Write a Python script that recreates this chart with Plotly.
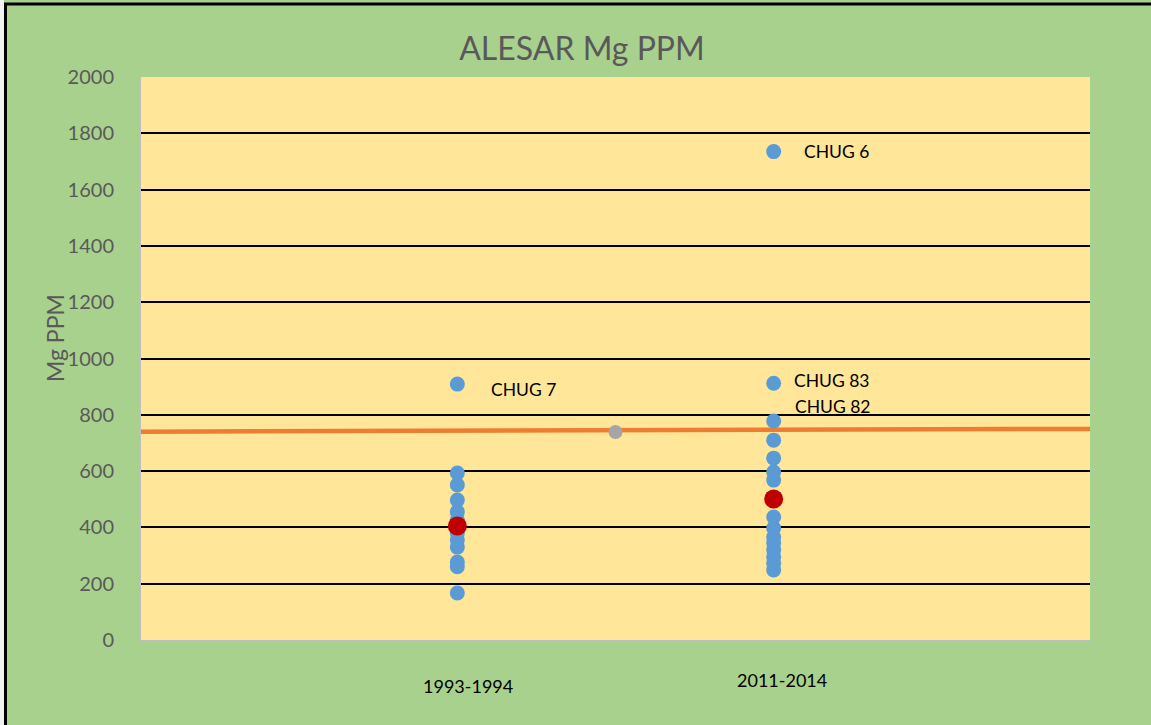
import plotly.graph_objects as go

categories = ["1993-1994", "2011-2014"]
cat_pos = [1, 2]
vals_1993 = [909, 593, 551, 497, 455, 426, 380, 355, 330, 277, 260, 167]
vals_2011 = [1735, 912, 778, 710, 646, 597, 568, 437, 398, 366, 345, 320, 295, 273, 249]
means = [405, 501]
overall_x = [1.5]
overall_y = [739]
ref_line_x = [0, 3]
ref_line_y = [740, 750]
labels = [("CHUG 7", 1, 909), ("CHUG 6", 2, 1735), ("CHUG 83", 2, 912), ("CHUG 82", 2, 778)]

W, H = 1151, 725
L, R, T, B = 141, 61, 77, 85
pw, ph = W - L - R, H - T - B

fig = go.Figure()
fig.add_trace(go.Scatter(x=ref_line_x, y=ref_line_y, mode="lines",
                         line=dict(color="#ED7D31", width=4.5), hoverinfo="skip"))
fig.add_trace(go.Scatter(x=[cat_pos[0]] * len(vals_1993) + [cat_pos[1]] * len(vals_2011),
                         y=vals_1993 + vals_2011, mode="markers",
                         marker=dict(color="#5B9BD5", size=15)))
fig.add_trace(go.Scatter(x=overall_x, y=overall_y, mode="markers",
                         marker=dict(color="#A5A5A5", size=14)))
fig.add_trace(go.Scatter(x=cat_pos, y=means, mode="markers",
                         marker=dict(color="#C00000", size=19)))

offsets = {"CHUG 7": (32, -5), "CHUG 6": (28, 0), "CHUG 83": (18, 3), "CHUG 82": (19, 14)}
for text, x, y in labels:
    dx, dy = offsets[text]
    fig.add_annotation(x=x, y=y, text=text, showarrow=False, xanchor="left",
                       xshift=dx, yshift=dy, font=dict(size=17.5, color="#000000"))

for c, p, ys in zip(categories, cat_pos, [-46, -40]):
    fig.add_annotation(x=p, y=0, text=c, showarrow=False, xshift=(11 if p == 1 else 8),
                       yshift=ys, yanchor="middle", font=dict(size=18, color="#000000"))

# y-axis title
fig.add_annotation(xref="paper", yref="paper", x=-(L - 55) / pw, y=(640 - 338) / ph,
                   text="Mg PPM", textangle=-90, showarrow=False,
                   xanchor="center", yanchor="middle",
                   font=dict(size=23, color="#595959"))

# white strip at far left, then black border (left/top only visible)
fig.add_shape(type="rect", xref="paper", yref="paper",
              x0=-(L + 5) / pw, x1=-(L - 4) / pw, y0=-(B + 5) / ph, y1=1 + (T + 5) / ph,
              line=dict(width=0), fillcolor="#F2F2F2", layer="below")
fig.add_shape(type="rect", xref="paper", yref="paper",
              x0=-(L - 5.5) / pw, x1=1 + (R + 5) / pw, y0=-(B + 5) / ph, y1=1 + (T - 4) / ph,
              line=dict(color="#000000", width=3), fillcolor="rgba(0,0,0,0)", layer="below")

fig.update_layout(
    width=W, height=H,
    margin=dict(l=L, r=R, t=T, b=B),
    paper_bgcolor="#A9D18E", plot_bgcolor="#FFE699",
    showlegend=False,
    font=dict(family="Lato, Open Sans, sans-serif", color="#595959"),
    title=dict(text="ALESAR Mg PPM", x=582 / W, xref="container", xanchor="center",
               y=1 - 49 / H, yanchor="middle", font=dict(size=32, color="#595959")),
    xaxis=dict(range=[0, 3], showticklabels=False, showgrid=False, zeroline=False,
               showline=True, linecolor="#BFBFBF", linewidth=1, mirror=False),
    yaxis=dict(range=[0, 2000], dtick=200, showgrid=True, gridcolor="#000000", gridwidth=2,
               zeroline=False, showline=True, linecolor="#BFBFBF", linewidth=1,
               tickfont=dict(size=20, color="#595959"), ticks="", ticklabelstandoff=22),
)

fig.write_html("out.html", config={"displayModeBar": False},
               post_script="document.body.style.margin='0';document.body.style.overflow='hidden';")
